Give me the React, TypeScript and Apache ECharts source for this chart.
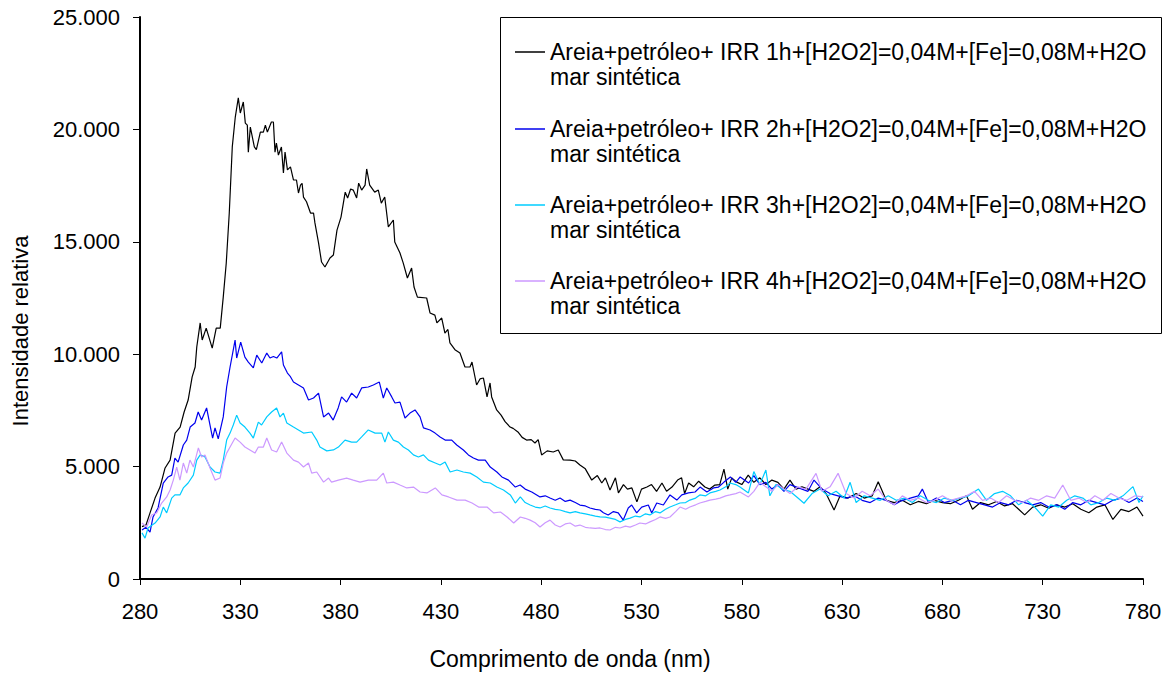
import React, { useEffect, useRef } from "react";
import * as echarts from "echarts";

const FONT = "Liberation Sans";

const xTicks = [280, 330, 380, 430, 480, 530, 580, 630, 680, 730, 780];
const yTicks = [0, 5000, 10000, 15000, 20000, 25000];

const seriesNames = [
  "Areia+petróleo+ IRR 1h+[H2O2]=0,04M+[Fe]=0,08M+H2O\nmar sintética",
  "Areia+petróleo+ IRR 2h+[H2O2]=0,04M+[Fe]=0,08M+H2O\nmar sintética",
  "Areia+petróleo+ IRR 3h+[H2O2]=0,04M+[Fe]=0,08M+H2O\nmar sintética",
  "Areia+petróleo+ IRR 4h+[H2O2]=0,04M+[Fe]=0,08M+H2O\nmar sintética",
];
const seriesColors = ["#000000", "#0000ee", "#00ccff", "#cc99ff"];

const irr1h: [number, number][] = [
  [281, 2330], [283, 2400], [285, 2940], [287.5, 3600], [290, 4090], [292.5, 4940], [295, 5290], [297.5, 6490],
  [300, 6760], [302, 7430], [304, 7960], [306, 8990], [307.5, 9430], [308.3, 10320], [310, 11390], [311, 10630],
  [313, 11160], [316, 10270], [318, 11160], [320, 11160], [321.5, 12540], [323, 14060], [324.5, 16280], [326, 19220],
  [327.5, 20550], [329, 21400], [330, 20730], [331.5, 21220], [332.5, 20280], [333.5, 20190], [334, 18990], [335, 20100],
  [337, 19220], [338, 19100], [340, 19880], [341.5, 19880], [342.5, 20190], [343.5, 19880], [345.5, 20330], [346.5, 20330],
  [347.3, 18990], [348, 19390], [349, 18860], [350.5, 19220], [351.5, 18060], [352.3, 18990], [353.5, 18200], [355, 18330],
  [356.5, 17750], [358, 17750], [359, 17170], [360, 17520], [360.8, 17600], [361.5, 16990], [363, 16780], [365, 16280],
  [366.5, 16280], [367.2, 15840], [369, 14950], [370.5, 14100], [372.2, 13880], [374.7, 14280], [376.4, 14410], [378.2, 15520],
  [380.2, 16100], [382.3, 17210], [383.5, 16950], [385, 17350], [386.3, 17300], [388, 16950], [389, 17610], [390.5, 17300],
  [392.2, 17520], [393, 18240], [394.5, 17520], [397, 17210], [398.8, 17300], [400.3, 16720], [402, 16990], [403.8, 15660],
  [406.3, 15970], [407, 14990], [409.6, 14500], [411.2, 14060], [413.3, 13390], [415.4, 13830], [416.6, 12990], [418.3, 12540],
  [422.9, 12500], [424.6, 11830], [427, 11740], [428, 11390], [430.4, 11610], [432, 10940], [433.5, 11100], [434.5, 10500],
  [437, 10200], [439.5, 10050], [442, 9430], [444.5, 9430], [445.5, 9650], [447.8, 8630], [449.5, 8900], [451.2, 8940],
  [453, 8100], [454.5, 8720], [455.3, 8100], [457.8, 7520], [460, 7290], [462, 7000], [464.5, 6760], [466, 6700],
  [468.4, 6540], [470.5, 6300], [472.7, 6180], [475, 6200], [476.9, 6050], [478.5, 6200], [480.2, 5520], [483, 5700],
  [486, 5650], [488.5, 5740], [491, 5300], [494.4, 5290], [497, 5250], [499.3, 5070], [502, 4900], [505.2, 4400],
  [508, 4600], [510.2, 4270], [512, 4500], [514.3, 3960], [517, 4500], [518.5, 3830], [521, 4200], [523, 4000],
  [525.2, 4050], [527.7, 3430], [530, 4000], [532.7, 4090], [535, 4200], [537.5, 3900], [540.2, 4270], [542.5, 3900],
  [545.2, 4090], [548, 4400], [550, 4500], [551.5, 3800], [553.5, 4270], [556, 4100], [558.5, 4350], [561.6, 4090],
  [564, 4000], [566.6, 4180], [569, 4200], [571.1, 4890], [573, 4000], [575, 4500], [577.5, 4310], [580, 4200],
  [583.2, 4620], [586, 4300], [589, 4500], [592, 4200], [595, 4400], [598, 4300], [601, 4000], [604, 4400],
  [607, 4000], [610, 4100], [613, 4000], [616, 3900], [619, 4100], [622, 3800], [626, 3070], [629, 3700],
  [633, 3600], [637, 3800], [641, 3600], [645, 3700], [648, 4330], [652, 3500], [656, 3400], [660, 3500],
  [664, 3300], [668, 3450], [672, 3350], [676, 3500], [680, 3400], [684, 3350], [688, 3500], [692, 3700],
  [695, 3100], [699, 3400], [703, 3300], [707, 3450], [711, 3250], [715, 3350], [718, 3100], [721, 2850],
  [725, 3200], [729, 3300], [733, 3150], [737, 3300], [741, 3200], [745, 3350], [749, 3100], [753, 2950],
  [757, 3200], [761, 3300], [765, 2650], [769, 3100], [773, 3000], [777, 3200], [780, 2800],
];

const irr2h: [number, number][] = [
  [281, 2180], [283, 2300], [285, 2090], [286.5, 2760], [289, 3160], [291.6, 4270], [294, 4540], [295.8, 4620],
  [297.4, 5380], [299, 5200], [301.6, 5960], [303.3, 6180], [305, 6760], [307.4, 6940], [309, 7430], [310.7, 7070],
  [313.2, 7610], [314.9, 6850], [316.2, 6270], [317.4, 6720], [319, 6230], [321.5, 7210], [323.2, 8540], [324.9, 9430],
  [327.4, 10630], [328.2, 9830], [330.2, 10540], [332.3, 9870], [334, 9650], [336.5, 9390], [338.2, 9960], [340.7, 9610],
  [343.2, 10050], [344.8, 9830], [346.5, 9900], [348.2, 9830], [350.6, 10100], [351.5, 9520], [353.5, 9160], [355, 9000],
  [356.5, 8760], [359, 8630], [361.5, 8500], [364, 7960], [366.5, 8050], [369, 8270], [371.5, 7210], [374, 7380],
  [376.3, 7070], [378.8, 7610], [380.5, 8100], [383, 7870], [385.5, 8270], [388, 8050], [390.5, 8500], [393.8, 8540],
  [396.3, 8630], [399.3, 8760], [401.3, 8050], [403, 8500], [405.5, 8100], [407.1, 7830], [409.6, 7870], [412.1, 7160],
  [414.6, 7380], [417.1, 7520], [419.6, 7210], [421.3, 6720], [424.6, 6630], [427.1, 6490], [429.6, 6320], [432.1, 6180],
  [435.4, 6180], [437.9, 5960], [441.2, 5740], [443.7, 5520], [446.2, 5380], [448.7, 5290], [452.1, 5290], [454.6, 4980],
  [457.9, 4760], [460.4, 4540], [463.7, 4400], [467.1, 4090], [469.5, 4180], [472, 4000], [475.3, 3870], [479.4, 3650],
  [482, 3700], [484.4, 3600], [487, 3500], [489.4, 3600], [492, 3450], [494.4, 3510], [497, 3400], [499.3, 3290],
  [502, 3250], [504.3, 3160], [507, 3100], [509.3, 3070], [511, 2950], [513.4, 2850], [516, 3000], [518.4, 2940],
  [520.9, 2620], [523.4, 3160], [525.1, 3290], [527.6, 2940], [530.1, 3200], [533.4, 3290], [535.1, 2940], [537.6, 3380],
  [540.9, 3290], [544.2, 3740], [547.6, 3510], [550.1, 3740], [553.4, 3830], [556.7, 3870], [559.2, 4090], [562.6, 3870],
  [565.9, 4050], [568.4, 4090], [571, 4300], [574.3, 4540], [577, 4300], [579.2, 4540], [583.4, 4270], [586, 4600],
  [589, 4200], [592, 4300], [595, 4000], [598, 4200], [601, 3900], [604, 4200], [607, 4100], [610, 4000],
  [613, 3900], [616, 4400], [620, 4000], [624, 3800], [628, 3700], [632, 3600], [636, 3700], [640, 3500],
  [644, 3400], [648, 3600], [652, 3500], [656, 3300], [660, 3500], [664, 3600], [668, 3700], [670, 4000],
  [673, 3400], [677, 3600], [681, 3400], [685, 3500], [689, 3300], [693, 3500], [697, 3400], [701, 3300],
  [705, 3200], [709, 3400], [713, 3300], [717, 3500], [721, 3400], [725, 3300], [729, 3400], [733, 3200],
  [737, 3300], [741, 3100], [745, 3400], [749, 3300], [753, 3500], [757, 3400], [761, 3300], [765, 3500],
  [769, 3600], [773, 3400], [777, 3600], [780, 3450],
];

const irr3h: [number, number][] = [
  [281, 2050], [282.5, 1820], [284, 2270], [287.5, 2490], [290, 2760], [291.6, 3200], [293.3, 2940], [295.8, 3600],
  [297.4, 3740], [299.9, 3740], [301.6, 4050], [304, 4270], [306.6, 4620], [308.3, 5290], [310, 5520], [312.4, 5430],
  [314.9, 4980], [317.4, 4760], [319.9, 4710], [321.5, 5290], [323.2, 6180], [324.9, 6490], [326.5, 6850], [328.2, 7290],
  [329.9, 6940], [332.3, 6760], [334.8, 6490], [336.5, 6270], [339, 6980], [340.6, 6850], [343.2, 7210], [345.6, 7430],
  [348.1, 7610], [349.8, 7210], [351.5, 7380], [353.2, 6940], [356.5, 6760], [359, 6630], [361.5, 6490], [365.6, 6540],
  [368.1, 6180], [369.7, 5870], [373.1, 5700], [376.4, 5740], [378.9, 5870], [382.2, 6180], [385.5, 6090], [388, 6090],
  [390.5, 6320], [393.8, 6630], [397.2, 6490], [400.5, 6490], [402.1, 6090], [403.8, 6540], [406.3, 6180], [408.8, 6090],
  [411.3, 5870], [413.8, 5740], [416.3, 5520], [418.8, 5430], [421.3, 5520], [423.8, 5290], [427.2, 5160], [429.6, 5070],
  [432.1, 5200], [434.6, 4760], [438, 4850], [441.2, 4760], [444.6, 4710], [447.9, 4540], [451.2, 4310], [454.6, 4270],
  [457.9, 4090], [461.2, 3960], [464.6, 3740], [467.1, 3380], [469.6, 3650], [472, 3400], [474.5, 3290], [477, 3200],
  [479.4, 3160], [482, 3250], [484.4, 3160], [487, 3100], [489.4, 3070], [492, 3000], [494.4, 2940], [497, 3000],
  [499.3, 2940], [502, 2900], [504.3, 2850], [507, 2800], [509.3, 2760], [512, 2750], [514.3, 2710], [517, 2650],
  [519.3, 2540], [522, 2650], [524.3, 2710], [527, 2800], [529.2, 2760], [532, 2900], [534.2, 2850], [537, 3000],
  [539.2, 2940], [542, 3100], [544.2, 3200], [547, 3300], [549.2, 3380], [552, 3400], [554.1, 3510], [557, 3600],
  [559.1, 3740], [562, 3700], [564.1, 3830], [567, 3900], [569.1, 3960], [572, 4100], [574.1, 4270], [577, 4200],
  [579.1, 4090], [583.3, 3830], [586, 4780], [589, 4200], [592, 4850], [594, 3700], [597, 4200], [600, 4000],
  [604, 3900], [608, 3600], [611, 3370], [615, 3800], [619, 4000], [623, 3700], [627, 3900], [631, 3600],
  [634, 4300], [637, 3400], [641, 3700], [645, 3600], [649, 3500], [653, 3700], [657, 3500], [661, 3600],
  [665, 3400], [669, 3700], [673, 3500], [677, 3400], [681, 3600], [685, 3500], [689, 3600], [693, 3700],
  [698, 4000], [702, 3500], [706, 3800], [710, 3900], [714, 3700], [718, 3300], [722, 3500], [726, 3200],
  [730, 2800], [734, 3300], [738, 3200], [742, 3500], [746, 3700], [750, 3600], [754, 3300], [758, 3400],
  [762, 3600], [766, 3500], [770, 3700], [775, 4110], [778, 3400], [780, 3700],
];

const irr4h: [number, number][] = [
  [281, 2490], [283.3, 2310], [285.8, 2850], [288.3, 2940], [290.8, 3380], [293.3, 3650], [295, 3960], [296.6, 4400],
  [298.3, 4980], [299.9, 4400], [301.6, 5160], [303.3, 4710], [304.9, 5290], [306.6, 4980], [309.1, 5830], [310.7, 5430],
  [312.4, 5520], [314.9, 4940], [317.4, 4400], [319.9, 4490], [321.5, 5160], [323.2, 5600], [324.9, 5870], [327.4, 6270],
  [329.9, 6090], [332.3, 5870], [334.8, 5740], [337.3, 5600], [339, 5870], [341.5, 5870], [343.2, 6270], [345.6, 5740],
  [348.1, 5650], [350.6, 6090], [353.2, 5600], [356.5, 5290], [359, 5200], [361.5, 4980], [364, 5160], [365.6, 4710],
  [368.1, 4760], [371.5, 4310], [374, 4490], [375.5, 4310], [378.9, 4400], [383, 4490], [386.3, 4400], [389.7, 4310],
  [393.8, 4400], [398, 4400], [401.3, 4710], [403, 4270], [406.3, 4310], [409.6, 4180], [413, 4050], [416.3, 4090],
  [419.6, 3870], [423, 3830], [427.2, 4050], [430.5, 3740], [433.8, 3650], [438, 3510], [442.1, 3510], [445.5, 3380],
  [448.8, 3200], [453, 3200], [456.3, 2940], [459.7, 2980], [463, 2760], [466.3, 2490], [469.6, 2760], [472, 2700],
  [474.5, 2620], [477, 2500], [479.4, 2310], [482, 2500], [484.4, 2620], [487, 2400], [489.4, 2310], [492, 2450],
  [494.4, 2490], [497, 2350], [499.3, 2400], [502, 2300], [504.3, 2270], [507, 2250], [509.3, 2270], [512, 2200],
  [514.3, 2180], [517, 2300], [519.3, 2270], [522, 2350], [524.3, 2310], [527, 2400], [529.2, 2490], [532, 2450],
  [534.2, 2540], [537, 2650], [539.2, 2760], [542, 2700], [544.2, 2760], [547, 3000], [549.2, 3200], [552, 3100],
  [554.1, 3200], [557, 3300], [559.1, 3380], [562, 3450], [564.1, 3510], [567, 3550], [569.1, 3600], [572, 3700],
  [574.1, 3740], [577, 3800], [579.1, 3870], [583.3, 3650], [586, 3900], [589, 4300], [592, 4100], [595, 3900],
  [598, 4200], [601, 4000], [604, 3800], [608, 4100], [612, 4000], [617, 4700], [620, 3900], [624, 4100],
  [628, 4700], [632, 3800], [636, 3600], [640, 3900], [644, 3700], [648, 4000], [652, 3500], [656, 3300],
  [660, 3700], [664, 3500], [668, 3600], [672, 3400], [676, 3500], [680, 3700], [684, 3500], [688, 3600],
  [692, 3700], [696, 3900], [700, 3500], [704, 3600], [708, 3400], [712, 3700], [716, 3500], [720, 3400],
  [724, 3600], [728, 3500], [732, 3700], [736, 3600], [740, 4180], [744, 3500], [748, 3600], [752, 3400],
  [756, 3700], [760, 3500], [764, 3800], [768, 3600], [772, 3500], [776, 3700], [780, 3650],
];

const seriesData = [irr1h, irr2h, irr3h, irr4h];

const xTitle = "Comprimento de onda (nm)";
const yTitle = "Intensidade relativa";

export default function App() {
  const ref = useRef<HTMLDivElement>(null);
  useEffect(() => {
    if (!ref.current) return;
    const chart = echarts.init(ref.current, undefined, { renderer: "svg" });

    const legendTop = 17;
    const legendLeft = 500;
    const legendW = 661;
    const legendH = 316;
    const legendRowY = [52, 129, 205, 281];
    const legendEls: any[] = [
      {
        type: "rect",
        id: "legend-box",
        shape: { x: legendLeft + 0.5, y: legendTop + 0.5, width: legendW, height: legendH },
        style: { fill: "#ffffff", stroke: "#000000", lineWidth: 1 },
        z: 10,
      },
    ];
    seriesNames.forEach((name, i) => {
      legendEls.push({
        type: "line",
        id: `legend-line-${i}`,
        shape: { x1: 515, y1: legendRowY[i], x2: 545, y2: legendRowY[i] },
        style: { stroke: seriesColors[i], lineWidth: 1.5, fill: null },
        z: 11,
      });
      legendEls.push({
        type: "text",
        id: `legend-text-${i}`,
        x: 550,
        y: legendRowY[i] - 13,
        style: {
          text: name,
          fill: "#000000",
          font: `23px "${FONT}"`,
          lineHeight: 25,
          textAlign: "left",
          textVerticalAlign: "top",
        },
        z: 11,
      });
    });

    chart.setOption({
      animation: false,
      backgroundColor: "#ffffff",
      grid: { left: 140, top: 17, width: 1003, height: 562, containLabel: false },
      xAxis: {
        type: "value",
        min: 280,
        max: 780,
        interval: 50,
        axisLine: { show: true, lineStyle: { color: "#000000", width: 2 } },
        axisTick: { show: true, inside: false, length: 6, lineStyle: { color: "#000000", width: 1 } },
        axisLabel: { color: "#000000", fontFamily: FONT, fontSize: 22, margin: 21, showMinLabel: true, showMaxLabel: true },
        splitLine: { show: false },
      },
      yAxis: {
        type: "value",
        min: 0,
        max: 25000,
        interval: 5000,
        axisLine: { show: true, lineStyle: { color: "#000000", width: 2 } },
        axisTick: { show: true, inside: false, length: 7, lineStyle: { color: "#000000", width: 1 } },
        axisLabel: {
          color: "#000000",
          fontFamily: FONT,
          fontSize: 22,
          margin: 20,
          formatter: (v: number) => (v === 0 ? "0" : (v / 1000).toFixed(3)),
        },
        splitLine: { show: false },
      },
      series: seriesData.map((d, i) => ({
        name: seriesNames[i],
        type: "line",
        data: d,
        showSymbol: false,
        symbol: "none",
        lineStyle: { color: seriesColors[i], width: 1.2 },
        itemStyle: { color: seriesColors[i] },
        z: 2 + i,
      })),
      graphic: [
        {
          type: "text",
          id: "x-title",
          x: 570,
          y: 659,
          style: {
            text: xTitle,
            fill: "#000000",
            font: `23px "${FONT}"`,
            textAlign: "center",
            textVerticalAlign: "middle",
          },
        },
        {
          type: "text",
          id: "y-title",
          x: 20,
          y: 331,
          rotation: Math.PI / 2,
          style: {
            text: yTitle,
            fill: "#000000",
            font: `22px "${FONT}"`,
            textAlign: "center",
            textVerticalAlign: "middle",
          },
        },
        ...legendEls,
      ],
    });
    return () => chart.dispose();
  }, []);
  return (
    <div
      ref={ref}
      style={{ position: "fixed", left: 0, top: 0, width: 1175, height: 673, background: "#ffffff" }}
    />
  );
}
